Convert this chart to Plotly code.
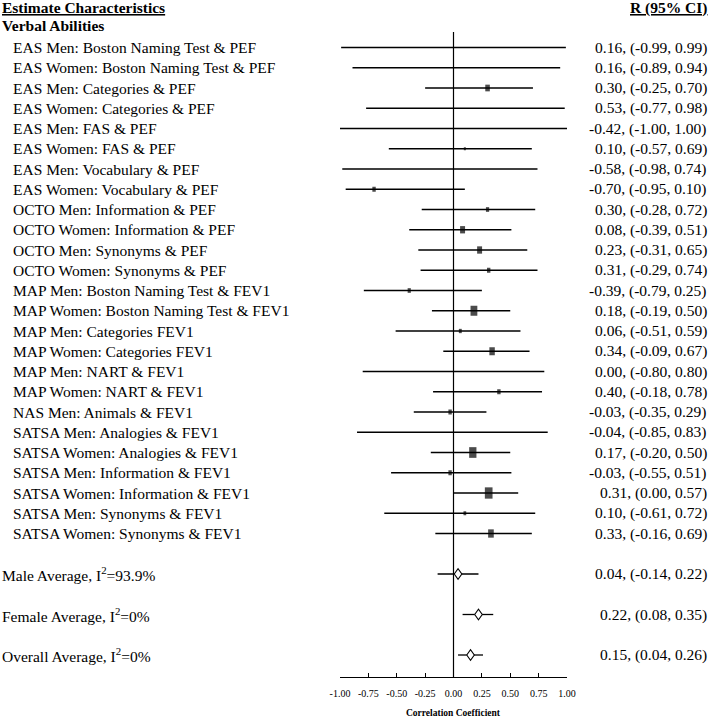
import plotly.graph_objects as go

# ---------------- data ----------------
studies = [
    "EAS Men: Boston Naming Test & PEF",
    "EAS Women: Boston Naming Test & PEF",
    "EAS Men: Categories & PEF",
    "EAS Women: Categories & PEF",
    "EAS Men: FAS & PEF",
    "EAS Women: FAS & PEF",
    "EAS Men: Vocabulary & PEF",
    "EAS Women: Vocabulary & PEF",
    "OCTO Men: Information & PEF",
    "OCTO Women: Information & PEF",
    "OCTO Men: Synonyms & PEF",
    "OCTO Women: Synonyms & PEF",
    "MAP Men: Boston Naming Test & FEV1",
    "MAP Women: Boston Naming Test & FEV1",
    "MAP Men: Categories FEV1",
    "MAP Women: Categories FEV1",
    "MAP Men: NART & FEV1",
    "MAP Women: NART & FEV1",
    "NAS Men: Animals & FEV1",
    "SATSA Men: Analogies & FEV1",
    "SATSA Women: Analogies & FEV1",
    "SATSA Men: Information & FEV1",
    "SATSA Women: Information & FEV1",
    "SATSA Men: Synonyms & FEV1",
    "SATSA Women: Synonyms & FEV1",
]
r_est = [0.16, 0.16, 0.30, 0.53, -0.42, 0.10, -0.58, -0.70, 0.30, 0.08, 0.23, 0.31,
         -0.39, 0.18, 0.06, 0.34, 0.00, 0.40, -0.03, -0.04, 0.17, -0.03, 0.31, 0.10, 0.33]
ci_low = [-0.99, -0.89, -0.25, -0.77, -1.00, -0.57, -0.98, -0.95, -0.28, -0.39, -0.31, -0.29,
          -0.79, -0.19, -0.51, -0.09, -0.80, -0.18, -0.35, -0.85, -0.20, -0.55, 0.00, -0.61, -0.16]
ci_high = [0.99, 0.94, 0.70, 0.98, 1.00, 0.69, 0.74, 0.10, 0.72, 0.51, 0.65, 0.74,
           0.25, 0.50, 0.59, 0.67, 0.80, 0.78, 0.29, 0.83, 0.50, 0.51, 0.57, 0.72, 0.69]
# relative study weights
weights = [0, 0, 6.7, 0, 0, 3, 0, 5, 4.7, 7.3, 7.3, 5, 4.7, 10, 4.3, 8, 0, 5, 5, 0,
           10.7, 5, 11.3, 4, 8.3]

avg_labels = ["Male Average, I<sup>2</sup>=93.9%",
              "Female Average, I<sup>2</sup>=0%",
              "Overall Average, I<sup>2</sup>=0%"]
avg_est = [0.04, 0.22, 0.15]
avg_low = [-0.14, 0.08, 0.04]
avg_high = [0.22, 0.35, 0.26]

tick_vals = [-1.0, -0.75, -0.5, -0.25, 0.0, 0.25, 0.5, 0.75, 1.0]
tick_text = ["-1.00", "-0.75", "-0.50", "-0.25", "0.00", "0.25", "0.50", "0.75", "1.00"]

# ---------------- layout helpers ----------------
W, H = 714, 721
FONT = "Liberation Serif, Times New Roman, serif"
n = len(studies)
rows = list(range(n))
avg_rows = [n + 1, n + 3, n + 5]

x_left_px, x_right_px = 340, 567
axis_px = 677
row0_px, row_step = 47.5, 20.25
y_top = (0 - row0_px) / row_step
y_bot = (axis_px - row0_px) / row_step

def fmt(e, lo, hi):
    return f"{e:.2f}, ({lo:.2f}, {hi:.2f})"

fig = go.Figure()

# CI lines for studies and averages
cx, cy = [], []
for lo, hi, r in zip(ci_low + avg_low, ci_high + avg_high, rows + avg_rows):
    cx += [lo, hi, None]
    cy += [r, r, None]
fig.add_trace(go.Scatter(x=cx, y=cy, mode="lines",
                         line=dict(color="black", width=1.3), hoverinfo="skip"))

# weight boxes (rectangles via line-ns marker)
sel = [i for i in rows if weights[i] > 0]
fig.add_trace(go.Scatter(
    x=[r_est[i] for i in sel], y=[rows[i] for i in sel], mode="markers",
    marker=dict(symbol="line-ns", size=[weights[i] / 1.4 for i in sel],
                color="black",
                line=dict(color="black", width=[weights[i] * 0.68 for i in sel])),
    hoverinfo="skip"))

# diamonds for averages
px_per_unit = (x_right_px - x_left_px) / 2.0
half_w = 3.8 / px_per_unit
half_h = 5.4 / row_step
for e, r in zip(avg_est, avg_rows):
    fig.add_trace(go.Scatter(
        x=[e - half_w, e, e + half_w, e, e - half_w],
        y=[r, r - half_h, r, r + half_h, r],
        mode="lines", fill="toself", fillcolor="white",
        line=dict(color="black", width=1.1), hoverinfo="skip"))

# zero line
fig.add_shape(type="line", xref="x", yref="y", x0=0, x1=0,
              y0=(32 - row0_px) / row_step, y1=y_bot,
              line=dict(color="black", width=1.2), layer="below")

ann = []
FS = 15.5
def add_text(txt, xpx, yrow, anchor="left", size=FS):
    ann.append(dict(text=txt, x=xpx / W, xref="paper", y=yrow, yref="y",
                    xanchor=anchor, yanchor="middle", showarrow=False,
                    font=dict(family=FONT, size=size, color="black")))

# headers
add_text("<b><u>Estimate Characteristics</u></b>", 0, (7.5 - row0_px) / row_step)
add_text("<b><u>R (95% CI)</u></b>", 710, (7.5 - row0_px) / row_step, anchor="right")
add_text("<b>Verbal Abilities</b>", 0, (25.5 - row0_px) / row_step)

for s, e, lo, hi, r in zip(studies, r_est, ci_low, ci_high, rows):
    add_text(s, 11, r)
    add_text(fmt(e, lo, hi), 709, r, anchor="right")
for s, e, lo, hi, r in zip(avg_labels, avg_est, avg_low, avg_high, avg_rows):
    add_text(s, 0, r)
    add_text(fmt(e, lo, hi), 709, r, anchor="right")

# x-axis title
ann.append(dict(text="<b>Correlation Coefficient</b>", x=0, xref="x",
                y=1 - 713 / H, yref="paper", xanchor="center", yanchor="middle",
                showarrow=False, font=dict(family=FONT, size=9.5, color="black")))

fig.update_layout(
    width=W, height=H, margin=dict(l=0, r=0, t=0, b=0, autoexpand=False),
    paper_bgcolor="white", plot_bgcolor="white", showlegend=False,
    annotations=ann,
    xaxis=dict(domain=[x_left_px / W, x_right_px / W], range=[-1, 1],
               automargin=False,
               tickvals=tick_vals, ticktext=tick_text, showgrid=False,
               zeroline=False, showline=True, linecolor="black", linewidth=1.2,
               ticks="inside", ticklen=4, tickcolor="black", tickwidth=1,
               ticklabelstandoff=7,
               tickfont=dict(family=FONT, size=10, color="black"),
               fixedrange=True),
    yaxis=dict(domain=[(H - axis_px) / H, 1], range=[y_bot, y_top],
               automargin=False,
               visible=False, showgrid=False, zeroline=False, fixedrange=True),
)

fig.write_html("out.html", config={"displayModeBar": False},
               post_script="document.body.style.margin='0';")
